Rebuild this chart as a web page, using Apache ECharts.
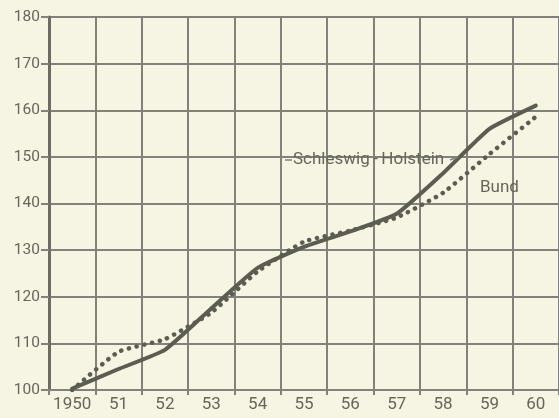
<!DOCTYPE html>
<html>
<head>
<meta charset="utf-8">
<script src="https://cdn.jsdelivr.net/npm/echarts@6/dist/echarts.min.js"></script>
<style>
html,body{margin:0;padding:0;background:#f6f5e4;}
#c{width:559px;height:418px;}
</style>
</head>
<body>
<div id="c"></div>
<script>
const years = ['1950','51','52','53','54','55','56','57','58','59','60'];
const schleswigHolstein = [100.3, 104.5, 108.6, 117.5, 126.2, 130.7, 134.0, 137.8, 146.5, 156.0, 161.0];
const bund = [100.0, 108.2, 110.9, 116.6, 125.4, 131.8, 134.2, 137.0, 142.3, 150.6, 158.6];
const yTicks = [100, 110, 120, 130, 140, 150, 160, 170, 180];

const ink = '#5c5c50';
const gridCol = '#82827a';
const textCol = '#66665a';
const font = 'Roboto, "Liberation Sans", sans-serif';

const chart = echarts.init(document.getElementById('c'), null, {renderer: 'canvas'});
chart.setOption({
  backgroundColor: '#f6f5e4',
  animation: false,
  grid: {left: 49, right: -4, top: 17, bottom: 28, containLabel: false},
  xAxis: {
    type: 'category',
    data: years,
    boundaryGap: true,
    axisLine: {show: true, lineStyle: {color: gridCol, width: 2}},
    axisTick: {show: true, alignWithLabel: false, interval: 0, length: 5, lineStyle: {color: gridCol, width: 2}},
    axisLabel: {color: textCol, fontSize: 17, fontFamily: font, margin: 6, interval: 0},
    splitLine: {show: true, interval: 0, lineStyle: {color: gridCol, width: 2}}
  },
  yAxis: {
    type: 'value',
    min: yTicks[0],
    max: yTicks[yTicks.length - 1],
    interval: 10,
    axisLine: {show: true, lineStyle: {color: '#6c6c62', width: 3}},
    axisTick: {show: true, length: 8, lineStyle: {color: gridCol, width: 2}},
    axisLabel: {color: textCol, fontSize: 15.5, fontFamily: font, margin: 9},
    splitLine: {show: true, lineStyle: {color: gridCol, width: 2}}
  },
  series: [
    {
      name: 'Schleswig-Holstein',
      type: 'line',
      data: schleswigHolstein,
      symbol: 'none',
      smooth: 0.15,
      lineStyle: {color: ink, width: 4, cap: 'round', join: 'round'},
      z: 3
    },
    {
      name: 'Bund',
      type: 'line',
      data: bund,
      symbol: 'none',
      smooth: 0.15,
      lineStyle: {color: ink, width: 4.5, type: [0.1, 7.8], cap: 'round'},
      z: 4
    }
  ],
  graphic: [
    {type: 'line', shape: {x1: 285, y1: 160, x2: 292, y2: 160}, style: {stroke: gridCol, lineWidth: 1.5}, z: 10},
    {type: 'text', left: 293, top: 151, style: {text: 'Schleswig\u2009-\u2009Holstein', fill: textCol, font: '17px ' + font}, z: 10},
    {type: 'line', shape: {x1: 450, y1: 160, x2: 458, y2: 157}, style: {stroke: gridCol, lineWidth: 1.5}, z: 10},
    {type: 'text', left: 480, top: 179, style: {text: 'Bund', fill: textCol, font: '17px ' + font}, z: 10}
  ]
});
</script>
</body>
</html>
